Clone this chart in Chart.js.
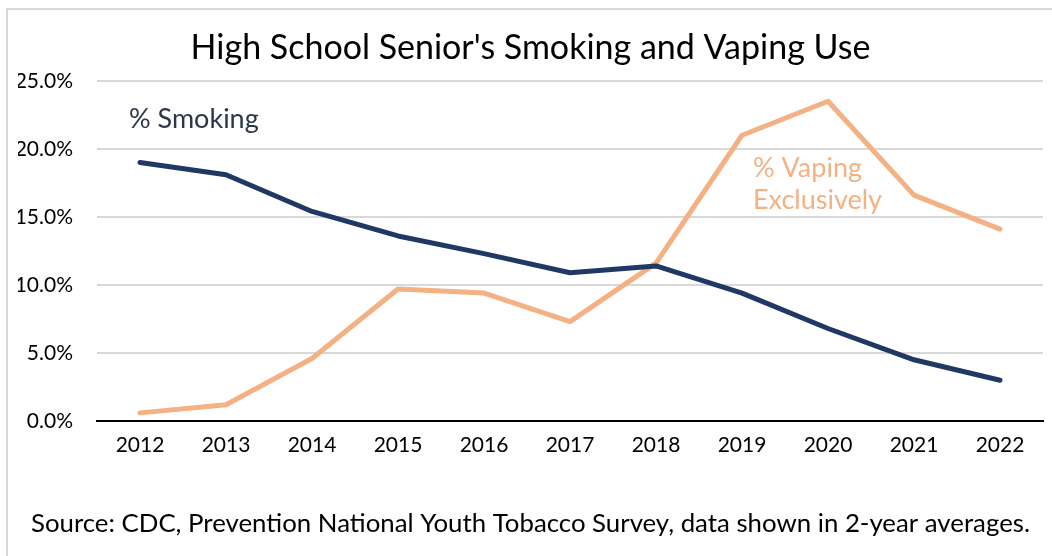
<!DOCTYPE html>
<html>
<head>
<meta charset="utf-8">
<script src="https://cdn.jsdelivr.net/npm/chart.js@4.4.1/dist/chart.umd.min.js"></script>
<style>
  html, body { margin: 0; padding: 0; background: #fff; }
  #wrap { width: 1052px; height: 556px; position: relative; }
</style>
</head>
<body>
<div id="wrap"><canvas id="smokeChart" width="1052" height="556"></canvas></div>
<script>
// datos (promedios de 2 anos, en %)
const years = ['2012', '2013', '2014', '2015', '2016', '2017', '2018', '2019', '2020', '2021', '2022'];
const smoking = [19.0, 18.1, 15.4, 13.6, 12.3, 10.9, 11.4, 9.4, 6.8, 4.5, 3.0];
const vaping = [0.6, 1.2, 4.6, 9.7, 9.4, 7.3, 11.6, 21.0, 23.5, 16.6, 14.1];
const yTicks = [0, 5, 10, 15, 20, 25];

const FONT = 'Lato, "Open Sans", sans-serif';
const NAVY = '#203864';
const PEACH = '#f4b183';

// marco gris y etiquetas de las series
const decorPlugin = {
    id: 'decor',
    beforeDraw(chart) {
        const ctx = chart.ctx;
        ctx.save();
        ctx.strokeStyle = '#d9d9d9';
        ctx.lineWidth = 2;
        ctx.strokeRect(7, 9, 1060, 560);
        ctx.restore();
    },
    afterDatasetsDraw(chart) {
        const ctx = chart.ctx;
        const x = chart.scales.x;
        const y = chart.scales.y;
        ctx.save();
        ctx.font = '27px ' + FONT;
        ctx.textBaseline = 'middle';
        ctx.textAlign = 'left';
        ctx.fillStyle = '#2b3648';
        ctx.fillText('% Smoking', x.getPixelForValue(0) - 11, y.getPixelForValue(22.2));
        ctx.fillStyle = PEACH;
        ctx.fillText('% Vaping', x.getPixelForValue(7) + 11, y.getPixelForValue(18.6));
        ctx.fillText('Exclusively', x.getPixelForValue(7) + 11, y.getPixelForValue(16.25));
        ctx.restore();
    }
};

new Chart(document.getElementById('smokeChart'), {
    type: 'line',
    data: {
        labels: years,
        datasets: [
            {
                label: '% Smoking',
                data: smoking,
                borderColor: NAVY,
                borderWidth: 5,
                pointRadius: 0,
                tension: 0,
                borderCapStyle: 'round',
                borderJoinStyle: 'round'
            },
            {
                label: '% Vaping Exclusively',
                data: vaping,
                borderColor: PEACH,
                borderWidth: 5,
                pointRadius: 0,
                tension: 0,
                borderCapStyle: 'round',
                borderJoinStyle: 'round'
            }
        ]
    },
    options: {
        responsive: false,
        animation: false,
        layout: { padding: { left: 18, right: 9, top: 0, bottom: 0 } },
        plugins: {
            legend: { display: false },
            tooltip: { enabled: false },
            title: {
                display: true,
                text: "High School Senior's Smoking and Vaping Use",
                color: '#000',
                font: { family: FONT, size: 34, weight: 'normal' },
                padding: { top: 28, bottom: 12 }
            },
            subtitle: {
                display: true,
                position: 'bottom',
                text: 'Source: CDC, Prevention National Youth Tobacco Survey, data shown in 2-year averages.',
                color: '#000',
                font: { family: FONT, size: 25.8, weight: 'normal' },
                padding: { top: 47, bottom: 17 }
            }
        },
        scales: {
            x: {
                offset: true,
                grid: { display: false, drawTicks: false },
                border: { display: true, color: '#000', width: 2 },
                ticks: { color: '#000', padding: 12, maxRotation: 0, font: { family: FONT, size: 21 } },
                afterFit(scale) { scale.height = 40; }
            },
            y: {
                min: 0,
                max: 25,
                afterBuildTicks(scale) { scale.ticks = yTicks.map(v => ({ value: v })); },
                grid: { color: '#d9d9d9', lineWidth: 2, drawTicks: false },
                border: { display: false },
                ticks: {
                    color: '#000',
                    padding: 24,
                    font: { family: FONT, size: 21 },
                    callback: v => v.toFixed(1) + '%'
                },
                afterFit(scale) { scale.width = 79; }
            }
        }
    },
    plugins: [decorPlugin]
});
</script>
</body>
</html>
